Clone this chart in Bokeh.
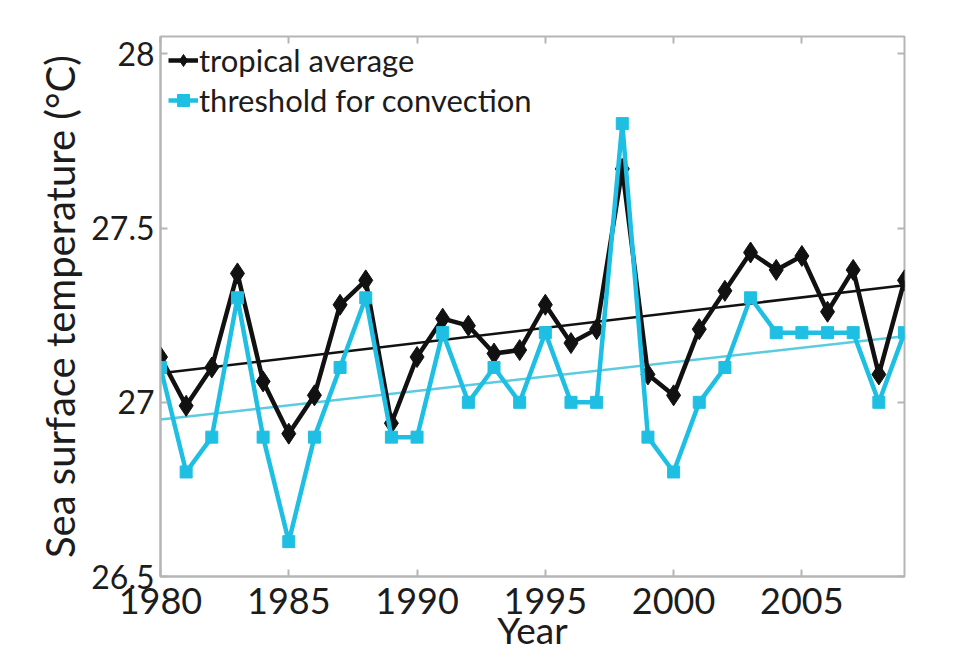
import numpy as np
from bokeh.plotting import figure
from bokeh.models import (ColumnDataSource, Range1d, LinearAxis, FixedTicker,
                          Legend, LegendItem)
from bokeh.embed import file_html
from bokeh.resources import INLINE

# Annual sea surface temperatures, 1980-2009 (°C)
years = list(range(1980, 2010))
tropical_average = [27.13, 26.99, 27.10, 27.37, 27.06, 26.91, 27.02, 27.28, 27.35, 26.94,
                    27.13, 27.24, 27.22, 27.14, 27.15, 27.28, 27.17, 27.21, 27.67, 27.08,
                    27.02, 27.21, 27.32, 27.43, 27.38, 27.42, 27.26, 27.38, 27.08, 27.35]
convection_threshold = [27.1, 26.8, 26.9, 27.3, 26.9, 26.6, 26.9, 27.1, 27.3, 26.9,
                        26.9, 27.2, 27.0, 27.1, 27.0, 27.2, 27.0, 27.0, 27.8, 26.9,
                        26.8, 27.0, 27.1, 27.3, 27.2, 27.2, 27.2, 27.2, 27.0, 27.2]
x_ticks = [1980, 1985, 1990, 1995, 2000, 2005]
y_ticks = [26.5, 27, 27.5, 28]

FONT = "Lato"
TEXT = "#1c1c1c"
BLACK = "#111111"
CYAN = "#1ebfe3"
CYAN_TREND = "#5ccbe0"
FRAME = "#b5b5b5"

yrs = np.array(years, dtype=float)
avg = np.array(tropical_average)
thr = np.array(convection_threshold)

# Least-squares linear trends of each series
avg_fit = np.polyfit(yrs, avg, 1)
thr_fit = np.polyfit(yrs, thr, 1)
trend_x = [yrs[0], yrs[-1]]

src = ColumnDataSource(dict(year=years, avg=tropical_average, thr=convection_threshold))

p = figure(width=964, height=670, output_backend="svg", toolbar_location=None,
           x_range=Range1d(1980, 2009), y_range=Range1d(26.5, 28.05),
           min_border_left=160, min_border_right=60, min_border_top=36, min_border_bottom=94)
p.background_fill_color = "white"
p.border_fill_color = "white"
p.outline_line_color = FRAME
p.outline_line_width = 2
p.xgrid.visible = False
p.ygrid.visible = False

# Trend lines
p.line(trend_x, np.polyval(avg_fit, trend_x).tolist(), line_color=BLACK, line_width=2.5)
p.line(trend_x, np.polyval(thr_fit, trend_x).tolist(), line_color=CYAN_TREND, line_width=2.5)

# Series
avg_line = p.line("year", "avg", source=src, line_color=BLACK, line_width=4.5)
avg_pts = p.scatter("year", "avg", source=src, marker="diamond", size=21,
                    fill_color=BLACK, line_color=BLACK)
thr_line = p.line("year", "thr", source=src, line_color=CYAN, line_width=4.5)
thr_pts = p.scatter("year", "thr", source=src, marker="square", size=12,
                    fill_color=CYAN, line_color=CYAN)

# Legend pinned near the top-left corner of the box
legend = Legend(items=[LegendItem(label="tropical average", renderers=[avg_line, avg_pts]),
                       LegendItem(label="threshold for convection", renderers=[thr_line, thr_pts])],
                location=(8, 456), border_line_alpha=0, background_fill_alpha=0,
                label_text_font=FONT, label_text_font_size="31px", label_text_color=TEXT,
                glyph_width=30, glyph_height=40, spacing=-5, padding=0, margin=0,
                label_standoff=1, label_height=30)
p.add_layout(legend)

# Axes: ticks drawn inside the box, light grey
for ax in (p.xaxis[0], p.yaxis[0]):
    ax.axis_line_color = FRAME
    ax.axis_line_width = 2
    ax.major_tick_line_color = FRAME
    ax.major_tick_line_width = 2
    ax.major_tick_in = 7
    ax.major_tick_out = 0
    ax.minor_tick_line_color = None
    ax.major_label_text_font = FONT
    ax.major_label_text_color = TEXT
    ax.axis_label_text_font = FONT
    ax.axis_label_text_font_style = "normal"
    ax.axis_label_text_color = TEXT

p.xaxis[0].ticker = FixedTicker(ticks=x_ticks)
p.xaxis[0].axis_label = "Year"
p.xaxis[0].major_label_text_font_size = "36px"
p.xaxis[0].axis_label_text_font_size = "37px"
p.xaxis[0].major_label_standoff = 11
p.xaxis[0].axis_label_standoff = -10

p.yaxis[0].ticker = FixedTicker(ticks=y_ticks)
p.yaxis[0].major_label_overrides = {26.5: "26.5", 27: "27", 27.5: "27.5", 28: "28"}
p.yaxis[0].axis_label = "Sea surface temperature (°C)"
p.yaxis[0].major_label_text_font_size = "32px"
p.yaxis[0].axis_label_text_font_size = "40px"
p.yaxis[0].major_label_standoff = 6
p.yaxis[0].axis_label_standoff = 4

# Mirror ticks on the top and right edges of the box (no labels)
blank_x = {t: "" for t in x_ticks}
blank_y = {t: "" for t in y_ticks}
top = LinearAxis(ticker=FixedTicker(ticks=x_ticks), major_label_overrides=blank_x,
                 axis_line_color=None, major_tick_line_color=FRAME, major_tick_line_width=2,
                 major_tick_in=7, major_tick_out=0, minor_tick_line_color=None,
                 major_label_standoff=0)
right = LinearAxis(ticker=FixedTicker(ticks=y_ticks), major_label_overrides=blank_y,
                   axis_line_color=None, major_tick_line_color=FRAME, major_tick_line_width=2,
                   major_tick_in=7, major_tick_out=0, minor_tick_line_color=None,
                   major_label_standoff=0)
p.add_layout(top, "above")
p.add_layout(right, "right")

open("out.html", "w").write(file_html(p, INLINE))
